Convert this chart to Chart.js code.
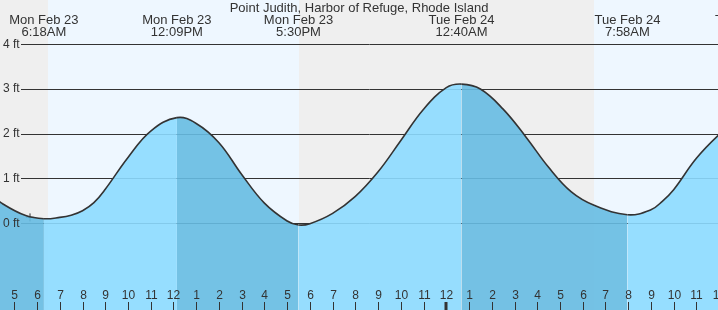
<!DOCTYPE html>
<html><head><meta charset="utf-8">
<script src="https://cdn.jsdelivr.net/npm/chart.js@4.4.1/dist/chart.umd.min.js"></script>
<style>html,body{margin:0;padding:0;background:#fff;overflow:hidden}#wrap{width:718px;height:310px;position:relative}canvas{display:block}</style>
</head><body><div id="wrap"><canvas id="c" width="718" height="310"></canvas></div>
<script>
const chartTitle = 'Point Judith, Harbor of Refuge, Rhode Island';
// hours counted from Mon Feb 23 00:00
const tideHours   = [3.5, 4.5, 5.5, 6.3, 7, 7.5, 8, 8.5, 9, 10, 11, 12.15, 13, 14, 15, 16, 17, 17.5, 18, 19, 20, 21, 22, 23, 24, 24.667, 25.5, 26.5, 27.5, 28.5, 29.5, 30.5, 31.967, 33, 33.5, 34, 35, 36, 37];
const tideHeights = [0.80, 0.43, 0.17, 0.10, 0.13, 0.18, 0.28, 0.46, 0.76, 1.47, 2.06, 2.36, 2.23, 1.80, 1.09, 0.45, 0.05, -0.04, -0.01, 0.22, 0.60, 1.15, 1.85, 2.55, 3.03, 3.11, 3.00, 2.55, 1.93, 1.25, 0.70, 0.40, 0.19, 0.30, 0.49, 0.75, 1.45, 1.98, 2.40];
const eventHours = [6.3, 12.15, 17.5, 24.667, 31.967, 37.27];
const eventDates = ['Mon Feb 23', 'Mon Feb 23', 'Mon Feb 23', 'Tue Feb 24', 'Tue Feb 24', 'Tue Feb 24'];
const eventTimes = ['6:18AM', '12:09PM', '5:30PM', '12:40AM', '7:58AM', '1:16PM'];
const eventTypes = ['low', 'high', 'low', 'high', 'low', 'high'];
const dayStartHours = [6.48, 30.48];
const dayEndHours = [17.53, 41.5];
const hourTicks = [4,5,6,7,8,9,10,11,12,13,14,15,16,17,18,19,20,21,22,23,24,25,26,27,28,29,30,31,32,33,34,35,36];
const hourTickLabels = ['4','5','6','7','8','9','10','11','12','1','2','3','4','5','6','7','8','9','10','11','12','1','2','3','4','5','6','7','8','9','10','11','12'];
const yTickValues = [0, 1, 2, 3, 4];
const yTickLabels = ['0 ft', '1 ft', '2 ft', '3 ft', '4 ft'];
const nowHour = [5.69];
const nowHeight = [0.13];

const NIGHT = '#efefef', DAY = '#eef7ff';
const RISE = 'rgba(140,218,255,0.9)', FALL = 'rgba(102,187,226,0.9)';
const INK = '#333333';
const FONT = '"Liberation Sans", Arial, sans-serif';

function isFalling(h) {
  let last = -1;
  for (let i = 0; i < eventHours.length; i++) if (eventHours[i] <= h + 1e-6) last = i;
  if (last === -1) return eventTypes[0] === 'low';
  return eventTypes[last] === 'high';
}

const deco = {
  id: 'deco',
  beforeDraw(chart) {
    const c = chart.ctx, xs = chart.scales.x;
    c.save();
    c.fillStyle = NIGHT;
    c.fillRect(0, 0, chart.width, chart.height);
    c.fillStyle = DAY;
    for (let i = 0; i < dayStartHours.length; i++) {
      const a = Math.round(xs.getPixelForValue(dayStartHours[i]));
      const b = Math.round(xs.getPixelForValue(dayEndHours[i]));
      c.fillRect(a, 0, b - a, chart.height);
    }
    c.restore();
  },
  beforeDatasetsDraw(chart) {
    const c = chart.ctx, ys = chart.scales.y;
    c.save();
    c.strokeStyle = INK; c.lineWidth = 1;
    yTickValues.forEach(v => {
      const y = Math.round(ys.getPixelForValue(v)) + 0.5;
      c.beginPath(); c.moveTo(21, y); c.lineTo(chart.width, y); c.stroke();
    });
    c.restore();
  },
  afterDatasetsDraw(chart) {
    const c = chart.ctx, xs = chart.scales.x, ys = chart.scales.y;
    c.save();
    c.fillStyle = INK; c.strokeStyle = INK;
    c.font = '12px ' + FONT; c.textAlign = 'left'; c.textBaseline = 'middle';
    yTickValues.forEach((v, i) => c.fillText(yTickLabels[i], 3, ys.getPixelForValue(v)));
    c.textAlign = 'center';
    hourTicks.forEach((h, i) => {
      const x = Math.round(xs.getPixelForValue(h));
      const mid = h % 24 === 0;
      c.lineWidth = mid ? 3 : 1;
      const lx = x + (mid ? 0 : 0.5);
      c.beginPath(); c.moveTo(lx, 302); c.lineTo(lx, 310); c.stroke();
      c.fillText(hourTickLabels[i], x + 0.5, 296);
    });
    c.font = '13px ' + FONT;
    eventHours.forEach((h, i) => {
      const x = xs.getPixelForValue(h);
      c.fillText(eventDates[i], x, 20);
      c.fillText(eventTimes[i], x, 32);
    });
    c.fillText(chartTitle, chart.width / 2, 8);
    c.restore();
  }
};

new Chart(document.getElementById('c'), {
  type: 'line',
  data: {
    datasets: [{
      data: tideHours.map((h, i) => ({x: h, y: tideHeights[i]})),
      borderColor: INK,
      borderWidth: 1.6,
      pointRadius: 0,
      pointHoverRadius: 0,
      fill: 'start',
      backgroundColor: RISE,
      tension: 0.4,
      segment: { backgroundColor: ctx => isFalling(ctx.p0.parsed.x) ? FALL : RISE }
    }, {
      type: 'scatter',
      data: nowHour.map((h, i) => ({x: h, y: nowHeight[i]})),
      pointStyle: 'cross',
      pointRadius: 4,
      borderColor: INK,
      borderWidth: 1,
      backgroundColor: INK
    }]
  },
  options: {
    responsive: false,
    animation: false,
    devicePixelRatio: 1,
    layout: { padding: 0, autoPadding: false },
    plugins: { legend: { display: false }, tooltip: { enabled: false } },
    scales: {
      x: { type: 'linear', min: 4.37, max: 35.95, display: false },
      y: { type: 'linear', min: -1.94, max: 4.99, display: false }
    }
  },
  plugins: [deco]
});
</script></body></html>
